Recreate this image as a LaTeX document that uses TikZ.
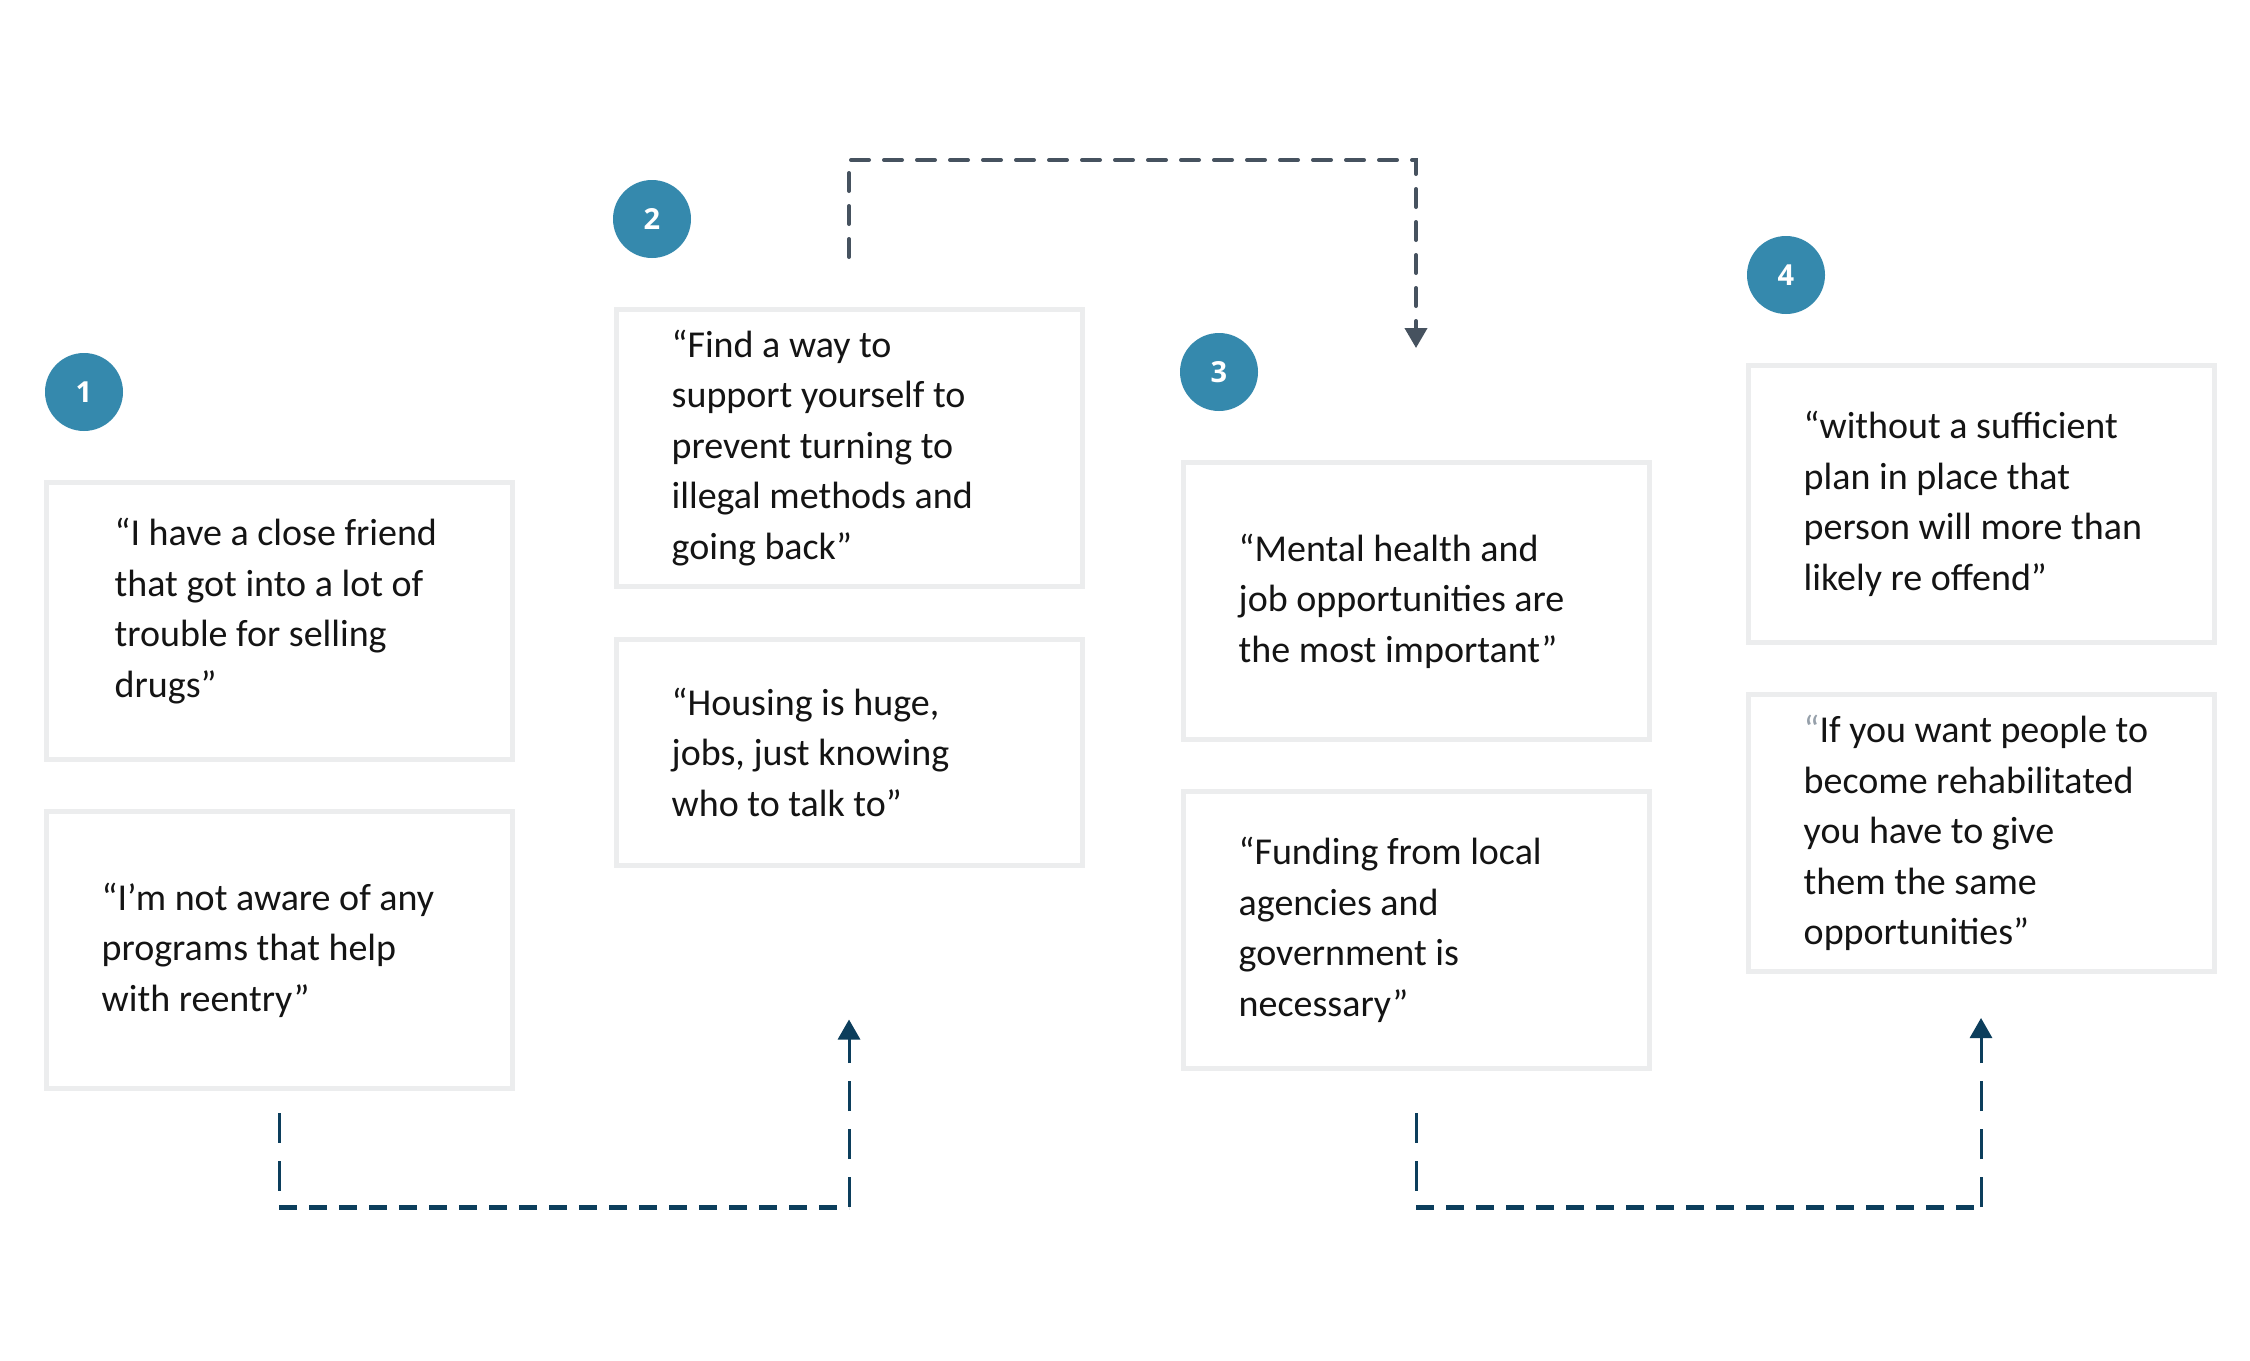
\documentclass[tikz,border=0pt]{standalone}
\usepackage{fontspec}
\setmainfont{Carlito}
\newfontfamily\numfont{Open Sans}
\usetikzlibrary{positioning,arrows.meta}

\definecolor{stepblue}{RGB}{53,137,173}
\definecolor{boxgray}{RGB}{236,237,238}
\definecolor{slate}{RGB}{70,82,95}
\definecolor{navy}{RGB}{12,62,92}
\definecolor{quotegray}{RGB}{150,160,170}

\tikzset{
  badge/.style={circle, fill=stepblue, minimum size=78pt, inner sep=0pt,
      text=white, font=\numfont\bfseries\fontsize{29}{29}\selectfont},
  qbox/.style={draw=boxgray, line width=5pt, fill=white,
      minimum width=466pt, minimum height=277pt},
  quote/.style={align=left, inner sep=0pt, text=black!92,
      font=\fontsize{38}{50.5}\selectfont},
  toplink/.style={draw=slate, line width=4pt, line cap=round,
      dash pattern=on 18pt off 15pt},
  vlink/.style={draw=navy, line width=3pt, dash pattern=on 30pt off 18pt},
  hlink/.style={draw=navy, line width=5pt, dash pattern=on 18pt off 12pt},
  tip/.style={-{Triangle[width=22pt,length=20pt]}},
}

\begin{document}
\begin{tikzpicture}[x=1pt,y=-1pt]

\useasboundingbox (0,0) rectangle (2250,1360);
\fill[white] (0,0) rectangle (2250,1360);

% step badges
\node[badge] (n1) at (84,392) {1};
\node[badge] (n2) at (652,219) {2};
\node[badge] (n3) at (1219,372) {3};
\node[badge] (n4) at (1786,275) {4};

% quote boxes
\node[qbox] (b1a) at (279,621) {};
\node[qbox] (b1b) at (279,950) {};
\node[qbox] (b2a) at (849,448) {};
\node[qbox, minimum height=226pt] (b2b) at (849,752) {};
\node[qbox] (b3a) at (1416,601) {};
\node[qbox] (b3b) at (1416,930) {};
\node[qbox] (b4a) at (1981,504) {};
\node[qbox] (b4b) at (1981,833) {};

% quotes
\node[quote, anchor=west] (q1a) at ([xshift=71pt,yshift=10pt]b1a.west)
  {“I have a close friend\\that got into a lot of\\trouble for selling\\drugs”};
\node[quote, anchor=west] (q1b) at ([xshift=58pt]b1b.west)
  {“I’m not aware of any\\programs that help\\with reentry”};
\node[quote, anchor=west] (q2a) at ([xshift=58pt]b2a.west)
  {“Find a way to\\support yourself to\\prevent turning to\\illegal methods and\\going back”};
\node[quote, anchor=west] (q2b) at ([xshift=58pt]b2b.west)
  {“Housing is huge,\\jobs, just knowing\\who to talk to”};
\node[quote, anchor=west] (q3a) at ([xshift=58pt]b3a.west)
  {“Mental health and\\job opportunities are\\the most important”};
\node[quote, anchor=west] (q3b) at ([xshift=58pt]b3b.west)
  {“Funding from local\\agencies and\\government is\\necessary”};
\node[quote, anchor=west] (q4a) at ([xshift=58pt]b4a.west)
  {“without a sufficient\\plan in place that\\person will more than\\likely re offend”};
\node[quote, anchor=west] (q4b) at ([xshift=58pt]b4b.west)
  {\textcolor{quotegray}{“}If you want people to\\become rehabilitated\\you have to give\\them the same\\opportunities”};

% links
\coordinate (toprow) at (0,160);
\coordinate (botrow) at (0,1207);
\coordinate (t0) at ([yshift=50pt]b2a.north);
\coordinate (t3) at ([yshift=112pt]b3a.north);
\draw[toplink, tip] (t0) -- (b2a.north |- toprow) -- (b3a.north |- toprow) -- (t3);

\coordinate (s1) at ([yshift=-22pt]b1b.south);
\coordinate (e1) at ([yshift=-152pt]b2b.south);
\draw[vlink] (s1) -- (b1b.south |- botrow);
\draw[hlink] (b1b.south |- botrow) -- (b2b.south |- botrow);
\draw[vlink, tip] (b2b.south |- botrow) -- (e1);

\coordinate (s2) at ([yshift=-42pt]b3b.south);
\coordinate (e2) at ([yshift=-44pt]b4b.south);
\draw[vlink] (s2) -- (b3b.south |- botrow);
\draw[hlink] (b3b.south |- botrow) -- (b4b.south |- botrow);
\draw[vlink, tip] (b4b.south |- botrow) -- (e2);

\end{tikzpicture}
\end{document}
